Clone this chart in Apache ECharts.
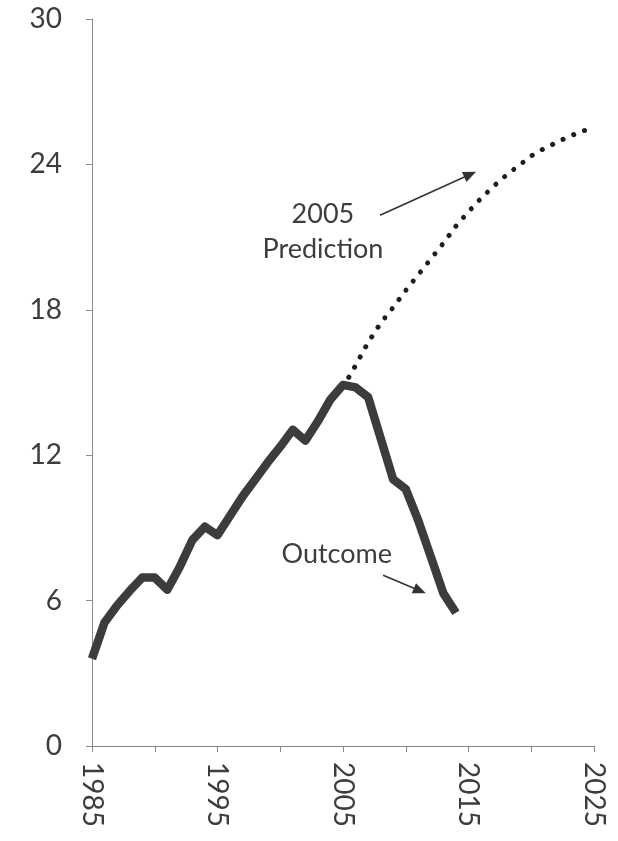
<!DOCTYPE html>
<html>
<head>
<meta charset="utf-8">
<script src="https://cdn.jsdelivr.net/npm/echarts@6/dist/echarts.min.js"></script>
<style>
html,body{margin:0;padding:0;background:#fff;}
#chart{width:618px;height:841px;}
</style>
</head>
<body>
<div id="chart"></div>
<script>
// ---- data ----
var outcomeYears = [1985,1986,1987,1988,1989,1990,1991,1992,1993,1994,1995,1996,1997,1998,1999,2000,2001,2002,2003,2004,2005,2006,2007,2008,2009,2010,2011,2012,2013,2014];
var outcomeValues = [3.6,5.1,5.8,6.4,6.95,6.95,6.45,7.4,8.5,9.05,8.7,9.5,10.3,11.0,11.7,12.35,13.05,12.6,13.4,14.3,14.9,14.8,14.4,12.7,11.0,10.6,9.3,7.8,6.3,5.5];
var predictionYears = [2005,2006,2007,2008,2009,2010,2011,2012,2013,2014,2015,2016,2017,2018,2019,2020,2021,2022,2023,2024,2025];
var predictionValues = [14.8,15.7,16.65,17.45,18.1,18.8,19.45,20.1,20.75,21.45,22.05,22.6,23.1,23.55,23.95,24.35,24.65,24.9,25.15,25.35,25.55];
var xLabelYears = [1985,1995,2005,2015,2025];
var yTicks = [0,6,12,18,24,30];
var annotations = [
  {lines:['2005','Prediction'], at:[2003.4, 21.2]},
  {lines:['Outcome'], at:[2004.5, 7.9]}
];
var arrows = [
  {from:[2007.95, 21.9], to:[2015.6, 23.7]},
  {from:[2008.2, 7.05], to:[2011.6, 6.3]}
];

function pairs(xs, ys){ return xs.map(function(x,i){ return [x, ys[i]]; }); }

var FONT = 'Lato, "Open Sans", sans-serif';
var TXT = '#3d3d3d';
var AX = '#8a8a8a';

var chart = echarts.init(document.getElementById('chart'), null, {renderer:'canvas'});
var option = {
  animation:false,
  backgroundColor:'#ffffff',
  grid:{left:92, right:24, top:19, bottom:95, containLabel:false},
  xAxis:{
    type:'value', min:1985, max:2025, interval:5,
    axisLine:{show:true, lineStyle:{color:AX, width:1}},
    axisTick:{show:true, length:6, inside:false, lineStyle:{color:AX, width:1}},
    splitLine:{show:false},
    axisLabel:{
      rotate:-90, margin:16, fontFamily:FONT, fontSize:28, color:TXT,
      formatter:function(v){ return xLabelYears.indexOf(v) >= 0 ? String(v) : ''; }
    }
  },
  yAxis:{
    type:'value', min:0, max:30, interval:6,
    axisLine:{show:true, lineStyle:{color:AX, width:1}},
    axisTick:{show:true, length:6, inside:false, lineStyle:{color:AX, width:1}},
    splitLine:{show:false},
    axisLabel:{margin:30, fontFamily:FONT, fontSize:28, color:TXT,
      formatter:function(v){ return yTicks.indexOf(v) >= 0 ? String(v) : ''; }}
  },
  series:[
    {
      name:'2005 Prediction', type:'line', data:pairs(predictionYears, predictionValues),
      showSymbol:false, smooth:false, z:2,
      lineStyle:{color:'#1e1e1e', width:5, type:[0.1, 11.5], cap:'round'}
    },
    {
      name:'Outcome', type:'line', data:pairs(outcomeYears, outcomeValues),
      showSymbol:false, smooth:false, z:3,
      lineStyle:{color:'#3c3c3c', width:8.5, join:'round', cap:'butt'}
    }
  ]
};
chart.setOption(option);

var gfx = [];
annotations.forEach(function(a){
  var p = chart.convertToPixel({gridIndex:0}, a.at);
  gfx.push({
    type:'text', x:p[0], y:p[1], z:10,
    style:{text:a.lines.join('\n'), fill:TXT, font:'27px ' + FONT, align:'center', verticalAlign:'middle', lineHeight:35}
  });
});
arrows.forEach(function(a){
  var p0 = chart.convertToPixel({gridIndex:0}, a.from);
  var p1 = chart.convertToPixel({gridIndex:0}, a.to);
  var dx = p1[0]-p0[0], dy = p1[1]-p0[1];
  var L = Math.sqrt(dx*dx+dy*dy), ux = dx/L, uy = dy/L;
  var hl = 13, hw = 5.5;
  var bx = p1[0]-ux*hl, by = p1[1]-uy*hl;
  gfx.push({type:'line', z:10, shape:{x1:p0[0], y1:p0[1], x2:bx+ux*2, y2:by+uy*2},
    style:{stroke:'#333333', lineWidth:1.6}});
  gfx.push({type:'polygon', z:10, shape:{points:[[p1[0],p1[1]],[bx-uy*hw, by+ux*hw],[bx+uy*hw, by-ux*hw]]},
    style:{fill:'#333333'}});
});
chart.setOption({graphic:gfx});
</script>
</body>
</html>
